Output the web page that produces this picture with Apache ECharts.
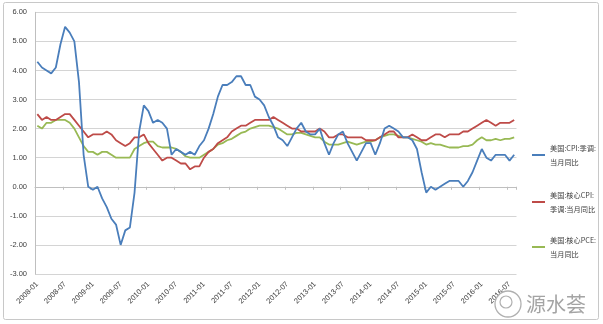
<!DOCTYPE html>
<html>
<head>
<meta charset="utf-8">
<script src="https://cdn.jsdelivr.net/npm/echarts@6/dist/echarts.min.js"></script>
<style>
  html, body { margin: 0; padding: 0; background: #ffffff; }
  #chart { width: 603px; height: 324px; }
</style>
</head>
<body>
<div id="chart"></div>
<script>
// Monthly categories, 2008-01 .. 2016-08
const startYear = 2008;
const monthCount = 104;
const months = [];
for (let k = 0; k < monthCount; k++) {
  const y = startYear + Math.floor(k / 12);
  const m = (k % 12) + 1;
  months.push(y + '-' + (m < 10 ? '0' + m : '' + m));
}

const seriesNames = ['美国:CPI:季调:当月同比', '美国:核心CPI:季调:当月同比', '美国:核心PCE:当月同比'];
const legendLabels = ['美国:CPI:季调:\n当月同比', '美国:核心CPI:\n季调:当月同比', '美国:核心PCE:\n当月同比'];

// 美国:CPI:季调:当月同比 (%)
const cpi = [
  4.3, 4.1, 4.0, 3.9, 4.1, 4.9, 5.5, 5.3, 5.0, 3.6, 1.1, 0.0,
  -0.1, 0.0, -0.4, -0.7, -1.1, -1.3, -2.0, -1.5, -1.4, -0.2, 1.9, 2.8,
  2.6, 2.2, 2.3, 2.2, 2.0, 1.1, 1.3, 1.2, 1.1, 1.2, 1.1, 1.4,
  1.6, 2.0, 2.5, 3.1, 3.5, 3.5, 3.6, 3.8, 3.8, 3.5, 3.5, 3.1,
  3.0, 2.8, 2.4, 2.1, 1.7, 1.6, 1.4, 1.7, 2.0, 2.2, 1.9, 1.8,
  1.8, 2.0, 1.5, 1.1, 1.5, 1.8, 1.9, 1.5, 1.2, 0.9, 1.2, 1.5,
  1.5, 1.1, 1.5, 2.0, 2.1, 2.0, 1.9, 1.7, 1.7, 1.6, 1.3, 0.5,
  -0.2, 0.0, -0.1, 0.0, 0.1, 0.2, 0.2, 0.2, 0.0, 0.2, 0.5, 0.9,
  1.3, 1.0, 0.9, 1.1, 1.1, 1.1, 0.9, 1.1
];

// 美国:核心CPI:季调:当月同比 (%)
const coreCpi = [
  2.5, 2.3, 2.4, 2.3, 2.3, 2.4, 2.5, 2.5, 2.3, 2.1, 1.9, 1.7,
  1.8, 1.8, 1.8, 1.9, 1.8, 1.6, 1.5, 1.4, 1.5, 1.7, 1.7, 1.8,
  1.5, 1.3, 1.1, 0.9, 1.0, 1.0, 0.9, 0.8, 0.8, 0.6, 0.7, 0.7,
  1.0, 1.2, 1.3, 1.5, 1.6, 1.7, 1.9, 2.0, 2.1, 2.1, 2.2, 2.3,
  2.3, 2.3, 2.3, 2.4, 2.3, 2.2, 2.1, 2.0, 2.0, 1.9, 1.9, 1.9,
  1.9, 2.0, 1.9, 1.7, 1.7, 1.8, 1.8, 1.7, 1.7, 1.7, 1.7, 1.6,
  1.6, 1.6, 1.7, 1.8, 1.9, 1.9, 1.7, 1.7, 1.7, 1.8, 1.7, 1.6,
  1.6, 1.7, 1.8, 1.8, 1.7, 1.8, 1.8, 1.8, 1.9, 1.9, 2.0, 2.1,
  2.2, 2.3, 2.2, 2.1, 2.2, 2.2, 2.2, 2.3
];

// 美国:核心PCE:当月同比 (%)
const corePce = [
  2.1, 2.0, 2.2, 2.2, 2.3, 2.3, 2.3, 2.2, 2.0, 1.7, 1.4, 1.2,
  1.2, 1.1, 1.2, 1.2, 1.1, 1.0, 1.0, 1.0, 1.0, 1.3, 1.4, 1.5,
  1.55, 1.55, 1.4, 1.35, 1.35, 1.35, 1.3, 1.2, 1.05, 1.0, 1.0, 1.0,
  1.1, 1.2, 1.3, 1.45, 1.5, 1.6, 1.65, 1.75, 1.85, 1.9, 2.0, 2.05,
  2.1, 2.1, 2.1, 2.05, 2.0, 1.9, 1.8, 1.8, 1.85, 1.85, 1.8, 1.75,
  1.7, 1.7, 1.55, 1.45, 1.45, 1.45, 1.5, 1.55, 1.5, 1.45, 1.5, 1.55,
  1.55, 1.6, 1.7, 1.75, 1.8, 1.8, 1.75, 1.7, 1.7, 1.65, 1.6, 1.55,
  1.45, 1.5, 1.45, 1.45, 1.4, 1.35, 1.35, 1.35, 1.4, 1.4, 1.45, 1.6,
  1.7, 1.6, 1.6, 1.65, 1.6, 1.65, 1.65, 1.7
];

// y axis range
const yMin = -3;
const yMax = 6;
const yStep = 1;

const colors = ['#4a7ebb', '#be4b48', '#98b954'];
const seriesData = [cpi, coreCpi, corePce];

const chart = echarts.init(document.getElementById('chart'), null, { renderer: 'canvas' });

const axisFont = { fontFamily: 'Liberation Sans, Arial, sans-serif', fontSize: 7.5, color: '#404040' };
const legendFont = {
  fontFamily: 'Noto Sans CJK SC, sans-serif',
  fontSize: 7.2,
  color: '#404040',
  lineHeight: 14,
  padding: [14, 0, 0, 0]
};
const legendTops = [134, 181, 226];

const option = {
  backgroundColor: '#ffffff',
  animation: false,
  grid: { left: 35, right: 86.5, top: 12.3, bottom: 50, containLabel: false },
  legend: seriesNames.map((name, k) => ({
    data: [name],
    left: 532,
    top: legendTops[k],
    padding: 0,
    orient: 'vertical',
    icon: 'rect',
    itemWidth: 13,
    itemHeight: 2,
    selectedMode: false,
    formatter: () => legendLabels[k],
    textStyle: legendFont
  })),
  xAxis: [
    {
      type: 'category',
      data: months,
      boundaryGap: true,
      position: 'bottom',
      axisLine: { show: false, onZero: false },
      axisTick: { show: false },
      axisLabel: Object.assign({ interval: 5, rotate: 45, margin: 9 }, axisFont),
      splitLine: { show: false }
    },
    {
      type: 'category',
      data: months,
      boundaryGap: true,
      position: 'bottom',
      axisLine: { show: true, onZero: true, onZeroAxisIndex: 0, lineStyle: { color: '#bfbfbf', width: 1 } },
      axisTick: { show: true, interval: 5, length: 3, lineStyle: { color: '#bfbfbf' } },
      axisLabel: { show: false },
      splitLine: { show: false }
    }
  ],
  yAxis: {
    type: 'value',
    min: yMin,
    max: yMax,
    interval: yStep,
    axisLine: { show: true, lineStyle: { color: '#bfbfbf', width: 1 } },
    axisTick: { show: false },
    axisLabel: Object.assign({ margin: 8, formatter: v => v.toFixed(2) }, axisFont),
    splitLine: { show: true, lineStyle: { color: '#d4d4d4', width: 1 } }
  },
  series: seriesNames.map((name, k) => ({
    name: name,
    type: 'line',
    xAxisIndex: 0,
    data: seriesData[k],
    symbol: 'none',
    showSymbol: false,
    smooth: false,
    lineStyle: { color: colors[k], width: 1.8 },
    itemStyle: { color: colors[k] },
    z: 3 - k
  })),
  graphic: [
    {
      type: 'rect',
      shape: { x: 3.5, y: 2.5, width: 595, height: 317, r: 2 },
      style: { fill: 'none', stroke: '#c8c8c8', lineWidth: 1 },
      silent: true
    },
    // watermark badge
    {
      type: 'circle',
      z: 100,
      x: 508,
      y: 304,
      shape: { cx: 0, cy: 0, r: 13 },
      style: { fill: 'rgba(255,255,255,0.92)', stroke: '#b0b0b0', lineWidth: 1.3 },
      silent: true
    },
    {
      type: 'circle',
      z: 101,
      x: 506,
      y: 302,
      shape: { cx: 0, cy: 0, r: 6 },
      style: { fill: 'rgba(255,255,255,0)', stroke: '#b0b0b0', lineWidth: 1.2 },
      silent: true
    },
    {
      type: 'text',
      z: 101,
      x: 526,
      y: 294,
      style: {
        text: '源水荟',
        fontFamily: 'Noto Sans CJK SC, sans-serif',
        fontSize: 20,
        fill: '#a4a4a4'
      },
      silent: true
    }
  ]
};

chart.setOption(option);
</script>
</body>
</html>
